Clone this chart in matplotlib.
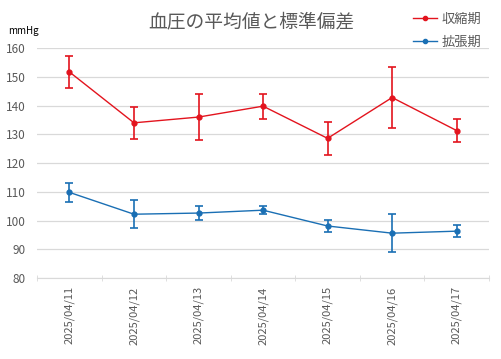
import numpy as np
import matplotlib
matplotlib.use("Agg")
import matplotlib.pyplot as plt
from matplotlib.lines import Line2D

plt.rcParams['font.family'] = ['Noto Sans CJK JP', 'DejaVu Sans']

dates = ["2025/04/11", "2025/04/12", "2025/04/13", "2025/04/14",
         "2025/04/15", "2025/04/16", "2025/04/17"]
sys_mean = [151.7, 134.0, 136.0, 139.8, 128.6, 142.8, 131.3]
sys_sd = [5.6, 5.6, 8.1, 4.4, 5.8, 10.5, 4.1]
dia_mean = [109.8, 102.2, 102.6, 103.6, 98.1, 95.6, 96.3]
dia_sd = [3.3, 4.9, 2.4, 1.4, 2.1, 6.6, 2.1]
labels = ["収縮期", "拡張期"]

red = "#e3141e"
blue = "#1a6fb4"
gray = "#595959"

fig = plt.figure(figsize=(5.02, 3.59), dpi=100)
ax = fig.add_axes([0.074, 0.2256, 0.9, 0.6404])

x = np.arange(len(dates))
ax.errorbar(x, sys_mean, yerr=sys_sd, color=red, lw=1.0, marker='o', ms=3.5,
            capsize=3, elinewidth=1.2, capthick=1.2, zorder=3)
ax.errorbar(x, dia_mean, yerr=dia_sd, color=blue, lw=1.0, marker='o', ms=3.5,
            capsize=3, elinewidth=1.2, capthick=1.2, zorder=3)

ax.set_xlim(-0.5, len(dates) - 0.5)
ax.set_ylim(80, 160)
ax.set_yticks(range(80, 161, 10))
ax.grid(axis='y', color='#d9d9d9', lw=0.9)
ax.set_axisbelow(True)
for s in ['top', 'right', 'left']:
    ax.spines[s].set_visible(False)
ax.spines['bottom'].set_color('#d9d9d9')
ax.tick_params(axis='y', length=0, labelsize=8.5, labelcolor=gray, pad=8)

ax.set_xticks(x)
ax.set_xticklabels(dates, rotation=90, fontsize=8, color=gray)
ax.tick_params(axis='x', length=0, pad=6)
ax.set_xticks(np.arange(-0.5, len(dates)), minor=True)
ax.tick_params(axis='x', which='minor', length=4, color='#d9d9d9', direction='inout')

fig.text(0.5, 0.94, "血圧の平均値と標準偏差", ha='center', va='center',
         fontsize=13.5, color=gray)
fig.text(0.016, 0.915, "mmHg", ha='left', va='center', fontsize=7, color='black')

handles = [Line2D([], [], color=red, marker='o', ms=3, lw=1.0),
           Line2D([], [], color=blue, marker='o', ms=3, lw=1.0)]
fig.legend(handles, labels, loc='upper left', bbox_to_anchor=(0.80, 0.997),
           frameon=False, fontsize=9.5, labelcolor=gray, handlelength=1.8,
           handletextpad=0.3, labelspacing=0.75)

fig.savefig("out.png", dpi=100)
